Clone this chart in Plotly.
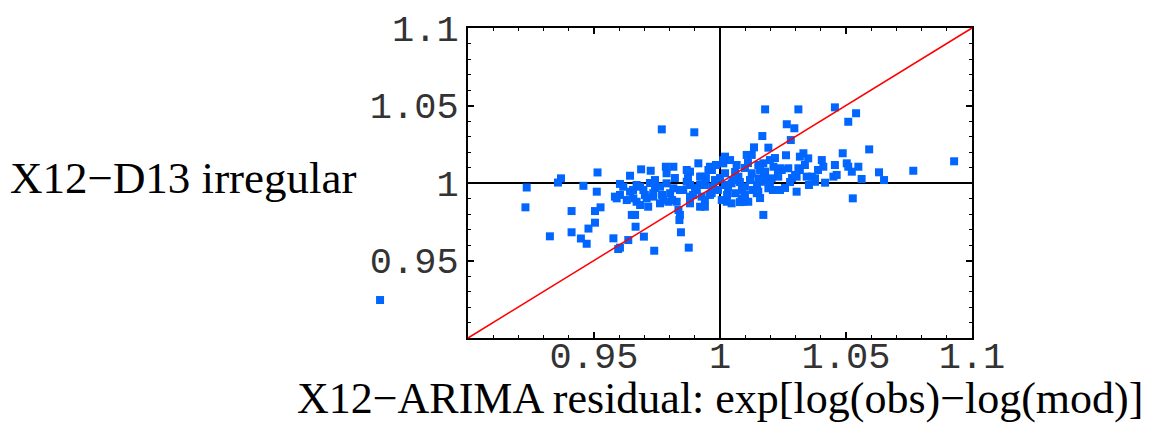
import plotly.graph_objects as go

# X12-ARIMA residual (x) vs X12-D13 irregular (y)
resid_x = [
    0.9233, 0.9228, 0.9369, 0.9357, 0.9458, 0.9514, 0.9511, 0.9603, 0.9643, 0.9687,
    0.9725, 0.9769, 0.9898, 0.9785, 0.9914, 1.0179, 1.0311, 1.0456, 1.0540, 1.0509,
    1.0265, 1.0295, 1.0168, 1.0281, 1.0192, 1.0135, 1.0106, 1.0262, 1.0592, 1.0929,
    1.0767, 1.0631, 1.0651, 1.0487, 1.0503, 1.0549, 1.0562, 1.0456, 1.0404, 1.0410,
    1.0331, 1.0317, 1.0350, 1.0304, 1.0364, 1.0377, 1.0417, 1.0450, 1.0527, 1.0020,
    1.0013, 0.9960, 1.0066, 1.0212, 1.0238, 1.0172, 0.9411, 0.9504, 0.9526, 0.9504,
    0.9478, 0.9411, 0.9325, 0.9448, 0.9471, 0.9577, 0.9596, 0.9603, 0.9636, 0.9665,
    0.9650, 0.9663, 0.9698, 0.9739, 0.9845, 0.9876, 0.9839, 0.9841, 0.9835, 0.9921,
    1.0172, 1.0304, 0.9590, 0.9630, 0.9669, 0.9655, 0.9715, 0.9762, 0.9795, 0.9881,
    1.0027, 1.0046, 1.0092, 1.0210, 1.0238, 1.0131,
    0.9616, 0.9643, 0.9669, 0.9656, 0.9696, 0.9709, 0.9735, 0.9762, 0.9788, 0.9802,
    0.9815, 0.9854, 0.9868, 0.9881, 0.9908, 0.9683, 0.9775, 0.9828, 0.9881,
    1.0013, 1.0126, 0.9927, 0.9954, 0.9980, 1.0020, 1.0046, 1.0073, 1.0099, 1.0126,
    1.0146, 0.9927, 0.9967, 1.0007, 1.0086, 1.0112, 0.9940, 1.0060, 1.0152,
    1.0152, 1.0179, 1.0245, 1.0271, 1.0165, 1.0205, 1.0231, 1.0152, 1.0192, 1.0298,
    1.0311, 1.0337, 1.0344, 1.0377, 1.0463, 1.0509, 1.0523,
    0.9583, 0.9603, 0.9683, 0.9735, 0.9788, 0.9815, 0.9868, 0.9921,
    0.9940, 0.9992, 1.0032, 1.0079, 0.9968, 1.0099, 1.0159, 1.0060, 0.9881, 0.9821,
    0.9742, 1.0179, 1.0278, 1.0218, 1.0099,
    0.9702, 0.9742, 0.9770, 0.9810, 0.9841, 0.9893, 0.9921, 0.9944, 0.9972, 1.0000,
    1.0028, 1.0052, 1.0087, 1.0119, 1.0147, 1.0175, 1.0198, 1.0230, 1.0258, 1.0286,
    1.0317, 1.0353, 1.0389, 0.9940, 1.0079, 1.0159, 0.9722, 0.9873, 0.9984, 1.0040,
    1.0111, 1.0198, 0.9901, 1.0020, 0.9960,
    0.8651,
]
irreg_y = [
    0.9971, 0.9843, 1.0030, 1.0003, 0.9982, 1.0068, 0.9944, 0.9994, 1.0047, 1.0088,
    1.0079, 1.0346, 1.0327, 1.0105, 1.0127, 1.0475, 1.0475, 1.0488, 1.0450, 1.0395,
    1.0379, 1.0353, 1.0303, 1.0277, 1.0228, 1.0230, 1.0181, 1.0179, 1.0217, 1.0140,
    1.0079, 1.0069, 1.0019, 1.0192, 1.0127, 1.0105, 1.0026, 1.0116, 1.0148, 1.0105,
    1.0192, 1.0170, 1.0159, 1.0041, 1.0041, 1.0008, 1.0002, 1.0041, 0.9901, 1.0170,
    1.0127, 1.0105, 1.0116, 1.0105, 1.0095, 1.0127, 0.9819, 0.9819, 0.9843, 0.9744,
    0.9706, 0.9682, 0.9656, 0.9642, 0.9608, 0.9643, 0.9574, 0.9583, 0.9632, 0.9718,
    0.9794, 0.9794, 0.9654, 0.9563, 0.9682, 0.9583, 0.9761, 0.9794, 0.9826, 0.9847,
    0.9794, 0.9944, 0.9901, 0.9890, 0.9879, 0.9955, 0.9847, 0.9869, 0.9879, 0.9869,
    0.9879, 0.9869, 0.9879, 0.9955, 0.9955, 0.9955,
    0.9976, 0.9944, 0.9987, 0.9901, 0.9955, 0.9901, 0.9934, 0.9976, 0.9998, 0.9934,
    0.9966, 0.9955, 1.0008, 0.9912, 0.9955, 0.9858, 0.9890, 0.9879, 1.0073,
    1.0148, 1.0181, 1.0041, 1.0084, 1.0019, 1.0063, 0.9998, 1.0041, 0.9976, 1.0063,
    0.9934, 0.9912, 0.9934, 0.9890, 0.9901, 0.9879, 0.9847, 0.9934, 1.0030,
    1.0116, 1.0073, 1.0084, 1.0095, 1.0008, 1.0030, 1.0041, 0.9944, 0.9966, 1.0052,
    1.0095, 1.0116, 1.0041, 1.0030, 1.0052, 1.0105, 1.0073,
    0.9912, 0.9923, 0.9976, 0.9912, 1.0063, 1.0105, 1.0084, 1.0041,
    0.9987, 0.9955, 0.9974, 1.0006, 1.0084, 1.0097, 1.0084, 1.0071, 0.9987, 1.0032,
    1.0019, 1.0019, 1.0006, 1.0161, 0.9923,
    0.9923, 0.9968, 0.9923, 0.9890, 0.9955, 0.9923, 0.9987, 1.0032, 0.9974, 1.0032,
    0.9923, 1.0019, 0.9955, 1.0019, 0.9987, 1.0052, 1.0000, 1.0071, 0.9968, 1.0032,
    1.0084, 0.9987, 1.0084, 0.9890, 0.9877, 0.9903, 1.0000, 1.0032, 1.0116, 1.0148,
    1.0129, 1.0148, 0.9968, 0.9987, 0.9923,
    0.9245,
]

diag = [0.9, 1.1]          # y = x reference line
ref_level = 1.0            # crosshair at 1, 1
tick_vals = [0.95, 1, 1.05, 1.1]
tick_text = ["0.95", "1", "1.05", "1.1"]
x_title = "X12\u2212ARIMA residual: exp[log(obs)\u2212log(mod)]"
y_title = "X12\u2212D13 irregular"

W, H = 1151, 423
box_l, box_r, box_t, box_b = 468, 972, 28, 338
x_rng = [0.9, 1.1]
y_rng = [0.9, 1.1]

# a second, invisible subplot covering the whole page, scaled like the frame,
# so points outside the frame (as in the original) are still drawn
kx = (x_rng[1] - x_rng[0]) / (box_r - box_l)
ky = (y_rng[1] - y_rng[0]) / (box_b - box_t)
full_x = [x_rng[0] - box_l * kx, x_rng[1] + (W - box_r) * kx]
full_y = [y_rng[0] - (H - box_b) * ky, y_rng[1] + box_t * ky]

fig = go.Figure()
# empty trace so the framed subplot gets built
fig.add_trace(go.Scatter(x=[], y=[], mode="markers", showlegend=False, hoverinfo="skip"))
fig.add_trace(go.Scatter(x=resid_x, y=irreg_y, mode="markers",
                         marker=dict(symbol="square", size=8, color="#0066ff", line_width=0),
                         xaxis="x2", yaxis="y2", cliponaxis=False, showlegend=False))
fig.add_trace(go.Scatter(x=diag, y=diag, mode="lines",
                         line=dict(color="#ff0000", width=1.5),
                         xaxis="x2", yaxis="y2", showlegend=False))

axis_style = dict(
    showline=True, linecolor="black", linewidth=2, mirror="ticks",
    ticks="inside", ticklen=6, tickwidth=1.5, tickcolor="black",
    tickmode="array", tickvals=tick_vals, ticktext=tick_text,
    tickfont=dict(family="Liberation Mono", size=37, color="#333"),
    showgrid=False, zeroline=False, fixedrange=True,
    minor=dict(tick0=0.9, dtick=0.01, ticks="inside", ticklen=3, tickwidth=1,
               tickcolor="black", showgrid=False),
)

fig.update_layout(
    width=W, height=H,
    margin=dict(l=0, r=0, t=0, b=0, autoexpand=False),
    paper_bgcolor="white", plot_bgcolor="rgba(0,0,0,0)",
    xaxis=dict(axis_style, range=x_rng, domain=[box_l / W, box_r / W], anchor="y",
               ticklabelstandoff=-16),
    yaxis=dict(axis_style, range=y_rng, domain=[(H - box_b) / H, (H - box_t) / H], anchor="x"),
    xaxis2=dict(range=full_x, domain=[0, 1], anchor="y2", visible=False, fixedrange=True),
    yaxis2=dict(range=full_y, domain=[0, 1], anchor="x2", visible=False, fixedrange=True),
    shapes=[
        dict(type="line", xref="x", yref="y", x0=ref_level, x1=ref_level, y0=y_rng[0], y1=y_rng[1],
             line=dict(color="black", width=2), layer="below"),
        dict(type="line", xref="x", yref="y", x0=x_rng[0], x1=x_rng[1], y0=ref_level, y1=ref_level,
             line=dict(color="black", width=2), layer="below"),
    ],
    annotations=[
        dict(text=x_title, xref="paper", yref="paper", x=(box_l + box_r) / 2 / W, y=(H - 398) / H,
             xanchor="center", yanchor="middle", showarrow=False,
             font=dict(family="Liberation Serif", size=44, color="black")),
        dict(text=y_title, xref="paper", yref="paper", x=8 / W, y=(H - 178) / H,
             xanchor="left", yanchor="middle", showarrow=False,
             font=dict(family="Liberation Serif", size=45, color="black")),
    ],
)

# drop the browser's default 8px body margin so the figure sits at the page corner
fig.write_html("out.html", config={"displayModeBar": False},
               post_script="document.body.style.margin = '0';")
